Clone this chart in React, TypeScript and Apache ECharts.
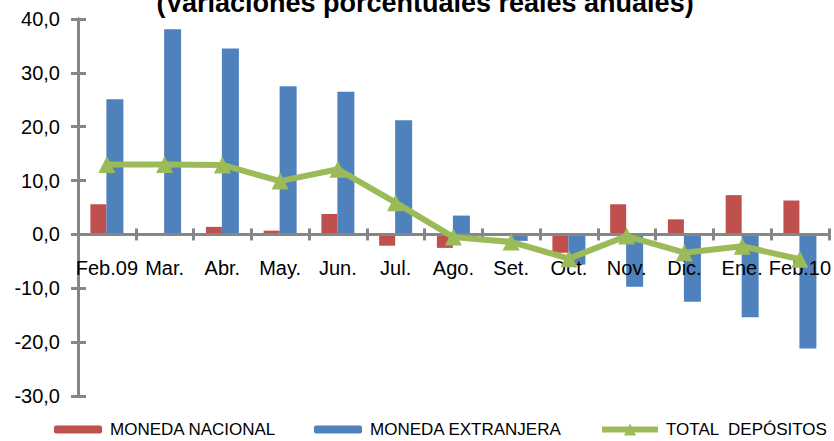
import React, { useEffect, useRef } from "react";
import * as echarts from "echarts";

const categories = ["Feb.09", "Mar.", "Abr.", "May.", "Jun.", "Jul.", "Ago.", "Set.", "Oct.", "Nov.", "Dic.", "Ene.", "Feb.10"];
const monedaNacional = [5.6, 0.0, 1.4, 0.7, 3.8, -2.1, -2.5, 0.0, -3.4, 5.6, 2.8, 7.3, 6.3];
const monedaExtranjera = [25.1, 38.1, 34.5, 27.5, 26.5, 21.2, 3.5, -1.2, -5.6, -9.7, -12.5, -15.4, -21.2];
const totalDepositos = [13.0, 13.0, 12.9, 9.9, 12.1, 5.9, -0.5, -1.4, -4.5, -0.3, -3.4, -2.2, -4.6];
const yTicks = { min: -30, max: 40, interval: 10 };
const titleText = "(Variaciones porcentuales reales anuales)";

const RED = "#C0504D";
const BLUE = "#4F81BD";
const GREEN = "#9BBB59";
const AXIS = "#868686";
const FONT = "'Liberation Sans', Arial, sans-serif";

export default function App() {
  const ref = useRef<HTMLDivElement>(null);
  useEffect(() => {
    if (!ref.current) return;
    const chart = echarts.init(ref.current, null, { renderer: "svg" });
    const legendText = { fontSize: 17, color: "#000", fontFamily: FONT, padding: [0, 0, 0, 3] };
    chart.setOption({
      animation: false,
      backgroundColor: "#fff",
      textStyle: { fontFamily: FONT },
      graphic: [
        {
          type: "text",
          x: 425,
          y: 3,
          style: {
            text: titleText,
            fontSize: 27,
            fontWeight: "bold",
            fontFamily: FONT,
            fill: "#000",
            align: "center",
            verticalAlign: "middle",
          },
        },
      ],
      legend: [
        {
          data: ["MONEDA NACIONAL"],
          left: 54,
          top: 421,
          padding: 0,
          itemWidth: 48,
          itemHeight: 8,
          textStyle: legendText,
        },
        {
          data: ["MONEDA EXTRANJERA"],
          left: 314,
          top: 421,
          padding: 0,
          itemWidth: 48,
          itemHeight: 8,
          textStyle: legendText,
        },
        {
          data: ["TOTAL  DEPÓSITOS"],
          left: 599,
          top: 421,
          padding: 0,
          itemWidth: 56,
          itemHeight: 15,
          lineStyle: { width: 6, color: GREEN },
          itemStyle: { color: GREEN },
          textStyle: legendText,
        },
      ],
      grid: { left: 78, right: 4, top: 19, bottom: 45, containLabel: false },
      xAxis: [
        {
          type: "category",
          data: categories,
          z: 3,
          axisLine: { onZero: true, onZeroAxisIndex: 0, lineStyle: { color: AXIS, width: 3 } },
          axisTick: { show: true, length: 6, lineStyle: { color: AXIS, width: 3 } },
          axisLabel: { interval: 0, fontSize: 20, color: "#000", margin: -138 },
          splitLine: { show: false },
        },
        {
          type: "category",
          data: categories,
          position: "bottom",
          z: 3,
          axisLine: { onZero: true, onZeroAxisIndex: 1, lineStyle: { color: AXIS, width: 3 } },
          axisTick: { show: true, inside: true, length: 6, lineStyle: { color: AXIS, width: 3 } },
          axisLabel: { show: false },
          splitLine: { show: false },
        },
      ],
      yAxis: [
        {
          type: "value",
          min: yTicks.min,
          max: yTicks.max,
          interval: yTicks.interval,
          axisLine: { show: true, lineStyle: { color: AXIS, width: 3 } },
          axisTick: { show: true, length: 7, lineStyle: { color: AXIS, width: 3 } },
          axisLabel: {
            fontSize: 20,
            color: "#000",
            margin: 18,
            formatter: (v: number) => v.toFixed(1).replace(".", ","),
          },
          splitLine: { show: false },
        },
        {
          type: "value",
          position: "left",
          min: yTicks.min,
          max: yTicks.max,
          interval: yTicks.interval,
          axisLine: { show: true, lineStyle: { color: AXIS, width: 3 } },
          axisTick: { show: true, inside: true, length: 8, lineStyle: { color: AXIS, width: 3 } },
          axisLabel: { show: false },
          splitLine: { show: false },
        },
      ],
      series: [
        {
          name: "MONEDA NACIONAL",
          type: "bar",
          data: monedaNacional,
          barWidth: 16,
          barGap: "0%",
          itemStyle: { color: RED },
          z: 2,
        },
        {
          name: "MONEDA EXTRANJERA",
          type: "bar",
          data: monedaExtranjera,
          barWidth: 17,
          barGap: "0%",
          itemStyle: { color: BLUE },
          z: 2,
        },
        {
          name: "TOTAL  DEPÓSITOS",
          type: "line",
          data: totalDepositos,
          symbol: "triangle",
          symbolSize: 17,
          lineStyle: { color: GREEN, width: 6 },
          itemStyle: { color: GREEN },
          z: 5,
        },
      ],
    });
    return () => chart.dispose();
  }, []);
  return <div ref={ref} style={{ width: 834, height: 441, position: "absolute", left: 0, top: 0 }} />;
}
